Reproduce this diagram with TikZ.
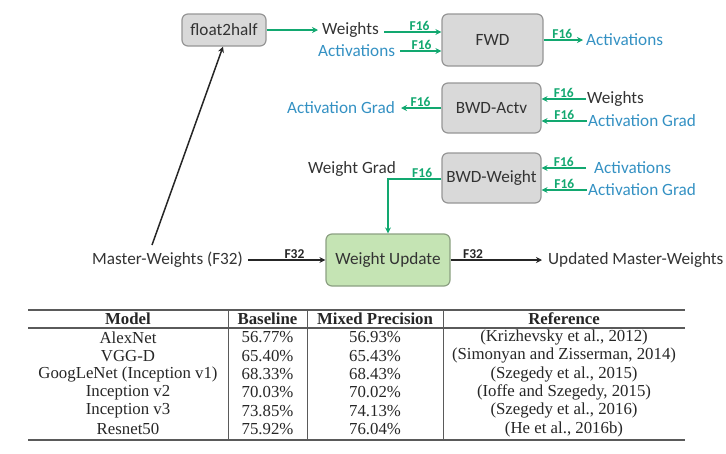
\documentclass[tikz,border=0pt]{standalone}
\usepackage{fontspec}
\setmainfont{Carlito}
\newfontfamily\tabfont{Liberation Serif}
\usetikzlibrary{arrows.meta,calc}
\definecolor{arrg}{RGB}{18,168,112}
\definecolor{txtb}{RGB}{52,145,195}
\definecolor{boxg}{RGB}{217,217,217}
\definecolor{boxb}{RGB}{150,150,150}
\definecolor{wug}{RGB}{197,228,180}
\definecolor{wub}{RGB}{140,160,130}
\definecolor{rulec}{RGB}{90,90,90}
\tikzset{
  box/.style={draw=boxb, fill=boxg, line width=1.2pt, rounded corners=6pt, font=\fontsize{17.2}{19}\selectfont, text=black!80},
  gbox/.style={draw=wub, fill=wug, line width=1.2pt, rounded corners=6pt, font=\fontsize{17.2}{19}\selectfont, text=black!80},
  blk/.style={font=\fontsize{17.2}{19}\selectfont, text=black!80, inner sep=0pt},
  blu/.style={font=\fontsize{17.2}{19}\selectfont, text=txtb, inner sep=0pt},
  garr/.style={draw=arrg, line width=1.5pt, -{Stealth[length=6pt,width=6pt]}},
  karr/.style={draw=black!85, line width=1.5pt, -{Stealth[length=6pt,width=6pt]}},
  lab/.style={font=\fontsize{13.5}{14}\selectfont\bfseries, text=arrg, inner sep=1pt, anchor=south},
  klab/.style={font=\fontsize{13.5}{14}\selectfont\bfseries, text=black!85, inner sep=1pt, anchor=south},
  tcell/.style={font=\tabfont\fontsize{16.8}{18}\selectfont, text=black!85, inner sep=0pt},
  thead/.style={font=\tabfont\fontsize{16.8}{18}\selectfont\bfseries, text=black!85, inner sep=0pt},
  trule/.style={draw=rulec, line width=1.2pt},
}
\begin{document}
\begin{tikzpicture}[x=1pt,y=-1pt]
\useasboundingbox (0,0) rectangle (726,453);
% boxes
\node[box, minimum width=84pt, minimum height=32pt] (f2h) at (224,30) {float2half};
\node[box, minimum width=101pt, minimum height=52pt] (fwd) at (492.5,40) {FWD};
\node[box, minimum width=99pt, minimum height=50pt] (bwda) at (491.5,108) {BWD-Actv};
\node[box, minimum width=99pt, minimum height=50pt] (bwdw) at (491.5,178) {BWD-Weight};
\node[gbox, minimum width=124pt, minimum height=52pt] (wu) at (388,260) {Weight Update};
% texts
\node[blk, anchor=west] (w1) at (322,30) {Weights};
\node[blu, anchor=west] (a1) at (318,51) {Activations};
\node[blu, anchor=west] (a2) at (586,40) {Activations};
\node[blu, anchor=east] (ag1) at (395,108) {Activation Grad};
\node[blk, anchor=west] (w2) at (587,99) {Weights};
\node[blu, anchor=west] (ag2) at (588,121) {Activation Grad};
\node[blu, anchor=west] (a3) at (594,168) {Activations};
\node[blu, anchor=west] (ag3) at (588,190) {Activation Grad};
\node[blk, anchor=west] (wg) at (308,169) {Weight Grad};
\node[blk, anchor=west] (mw) at (92,260) {Master-Weights (F32)};
\node[blk, anchor=west] (um) at (548,260) {Updated Master-Weights};
\coordinate (ms) at (152,245);
% connectors
\draw[garr, shorten >=4pt] (f2h.east) -- (w1.west |- f2h.east);
\draw[garr] ([xshift=5pt,yshift=-2pt]w1.east) -- node[lab, pos=0.62]{F16} ([yshift=-2pt]w1.east -| fwd.west);
\draw[garr] ([xshift=5pt]a1.east) -- node[lab, pos=0.52]{F16} (a1.east -| fwd.west);
\draw[garr, shorten >=3pt] (fwd.east) -- node[lab, pos=0.44]{F16} (a2.west);
\draw[garr, shorten >=6pt] (bwda.west) -- node[lab, pos=0.45]{F16} (ag1.east);
\draw[garr] ([xshift=-1pt]w2.west) -- node[lab, pos=0.5]{F16} (w2.west -| bwda.east);
\draw[garr] ([xshift=-1pt]ag2.west) -- node[lab, pos=0.5]{F16} (ag2.west -| bwda.east);
\draw[garr] ([xshift=-8pt]a3.west) -- node[lab, pos=0.5]{F16} (a3.west -| bwdw.east);
\draw[garr] ([xshift=-1pt]ag3.west) -- node[lab, pos=0.5]{F16} (ag3.west -| bwdw.east);
\draw[garr] ([yshift=-1pt]bwdw.west) -| node[lab, pos=0.18]{F16} (wu.north);
\draw[karr] ([xshift=5pt]mw.east) -- node[klab, pos=0.6]{F32} (wu.west);
\draw[karr, shorten >=6pt] (wu.east) -- node[klab, pos=0.23]{F32} (um.west);
\draw[line width=1.5pt, draw=black!85, -{Stealth[length=6pt,width=6pt]}] (ms) -- ([xshift=-1pt]f2h.south);
% table
\draw[trule] (28,310) -- (685,310);
\draw[trule] (28,328) -- (685,328);
\draw[trule] (28,440) -- (685,440);
\draw[trule, line width=1pt] (228,310) -- (228,440);
\draw[trule, line width=1pt] (307,310) -- (307,440);
\draw[trule, line width=1pt] (443,310) -- (443,440);
\node[thead] (h1) at (128,319) {Model};
\node[thead] (h2) at (267.5,319) {Baseline};
\node[thead] (h3) at (375,319) {Mixed Precision};
\node[thead] (h4) at (564,319) {Reference};
\node[tcell] (m1) at (128,337.5) {AlexNet};
\node[tcell] (m2) at (128,355.8) {VGG-D};
\node[tcell] (m3) at (128,374.1) {GoogLeNet (Inception v1)};
\node[tcell] (m4) at (128,392.4) {Inception v2};
\node[tcell] (m5) at (128,410.7) {Inception v3};
\node[tcell] (m6) at (128,429) {Resnet50};
\node[tcell] (b1) at (267.5,337.5) {56.77\%};
\node[tcell] (b2) at (267.5,355.8) {65.40\%};
\node[tcell] (b3) at (267.5,374.1) {68.33\%};
\node[tcell] (b4) at (267.5,392.4) {70.03\%};
\node[tcell] (b5) at (267.5,410.7) {73.85\%};
\node[tcell] (b6) at (267.5,429) {75.92\%};
\node[tcell] (p1) at (375,337.5) {56.93\%};
\node[tcell] (p2) at (375,355.8) {65.43\%};
\node[tcell] (p3) at (375,374.1) {68.43\%};
\node[tcell] (p4) at (375,392.4) {70.02\%};
\node[tcell] (p5) at (375,410.7) {74.13\%};
\node[tcell] (p6) at (375,429) {76.04\%};
\node[tcell] (r1) at (564,337.5) {(Krizhevsky et al., 2012)};
\node[tcell] (r2) at (564,355.8) {(Simonyan and Zisserman, 2014)};
\node[tcell] (r3) at (564,374.1) {(Szegedy et al., 2015)};
\node[tcell] (r4) at (564,392.4) {(Ioffe and Szegedy, 2015)};
\node[tcell] (r5) at (564,410.7) {(Szegedy et al., 2016)};
\node[tcell] (r6) at (564,429) {(He et al., 2016b)};
\end{tikzpicture}
\end{document}
